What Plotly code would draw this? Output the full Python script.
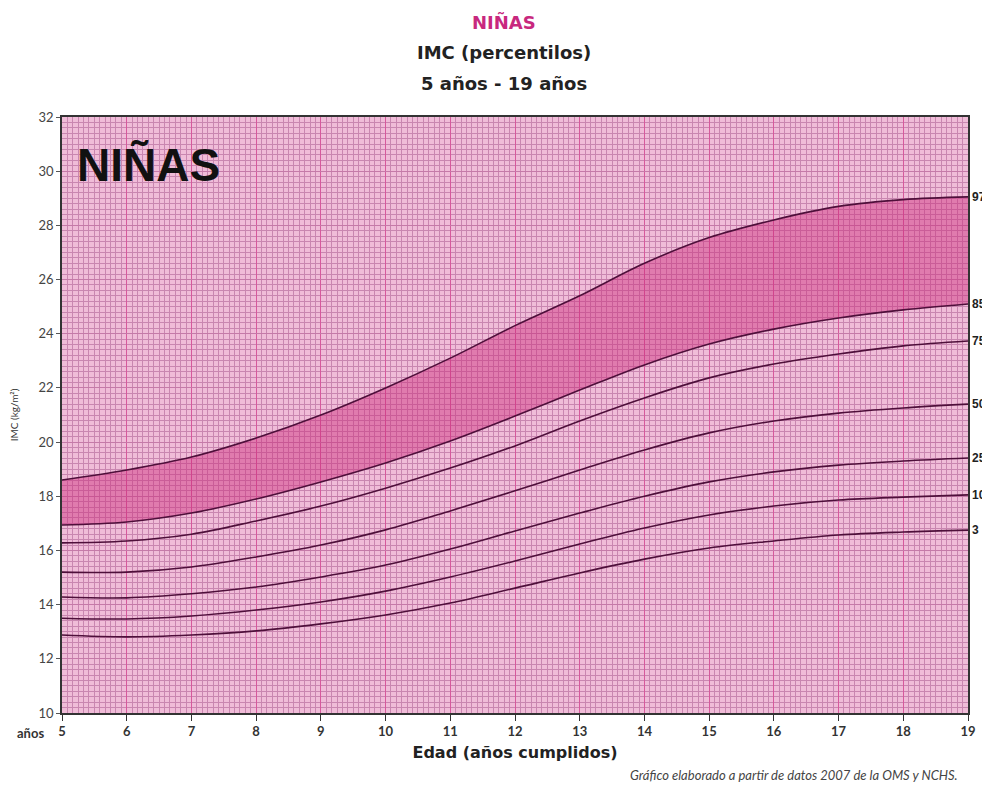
import plotly.graph_objects as go

ages = [5, 6, 7, 8, 9, 10, 11, 12, 13, 14, 15, 16, 17, 18, 19]
p97 = [18.6, 18.97, 19.45, 20.15, 21.0, 22.0, 23.1, 24.3, 25.4, 26.6, 27.55, 28.2, 28.7, 28.95, 29.05]
p85 = [16.94, 17.05, 17.38, 17.9, 18.53, 19.23, 20.04, 20.96, 21.92, 22.85, 23.62, 24.17, 24.58, 24.88, 25.1]
p75 = [16.28, 16.35, 16.6, 17.09, 17.64, 18.3, 19.04, 19.86, 20.78, 21.63, 22.37, 22.88, 23.25, 23.55, 23.73]
p50 = [15.2, 15.2, 15.39, 15.76, 16.2, 16.76, 17.46, 18.2, 18.97, 19.71, 20.34, 20.78, 21.07, 21.26, 21.4]
p25 = [14.28, 14.25, 14.4, 14.65, 15.02, 15.46, 16.05, 16.72, 17.38, 18.0, 18.53, 18.9, 19.15, 19.3, 19.41]
p10 = [13.5, 13.47, 13.58, 13.8, 14.1, 14.5, 15.02, 15.61, 16.24, 16.83, 17.31, 17.64, 17.86, 17.97, 18.05]
p3 = [12.88, 12.81, 12.88, 13.03, 13.29, 13.62, 14.06, 14.61, 15.17, 15.68, 16.09, 16.35, 16.57, 16.68, 16.75]

series = [("97", p97), ("85", p85), ("75", p75), ("50", p50), ("25", p25), ("10", p10), ("3", p3)]
x_ticks = list(range(5, 20))
y_ticks = list(range(10, 33, 2))

LINE = "#4e0f3a"
TITLE_FONT = "DejaVu Sans"
fig = go.Figure()

# shaded band between 85 and 97
fig.add_trace(go.Scatter(x=ages, y=p85, mode="lines", line=dict(color=LINE, width=1.6, shape="spline"),
                         hoverinfo="skip", showlegend=False))
fig.add_trace(go.Scatter(x=ages, y=p97, mode="lines", line=dict(color=LINE, width=1.6, shape="spline"),
                         fill="tonexty", fillcolor="rgba(205,45,125,0.45)", hoverinfo="skip", showlegend=False))
for name, vals in series[2:]:
    fig.add_trace(go.Scatter(x=ages, y=vals, mode="lines", line=dict(color=LINE, width=1.6, shape="spline"),
                             name=name, showlegend=False))

for name, vals in series:
    fig.add_annotation(x=19, y=vals[-1], xref="x", yref="y", text="<b>" + name + "</b>", showarrow=False,
                       xanchor="left", xshift=2, font=dict(family="Liberation Sans", size=12, color="#222"))

fig.update_xaxes(range=[5, 19], tickvals=x_ticks, ticktext=["<b>%d</b>" % v for v in x_ticks],
                 showgrid=True, gridcolor="#d65a9c", gridwidth=1.3,
                 minor=dict(dtick=1/12, tick0=5, showgrid=True, gridcolor="#c986b0", gridwidth=1),
                 showline=True, linecolor="#333", linewidth=1.5, mirror=True,
                 ticks="outside", ticklen=6, tickcolor="#333",
                 tickfont=dict(family="Lato", size=13, color="#333"),
                 title=dict(text="<b>Edad (años cumplidos)</b>", font=dict(family=TITLE_FONT, size=16, color="#222"), standoff=8),
                 automargin=False, zeroline=False)
fig.update_yaxes(range=[10, 32], tickvals=y_ticks, showgrid=True, gridcolor="#c57aa8", gridwidth=1,
                 minor=dict(dtick=0.2, tick0=10, showgrid=True, gridcolor="#c986b0", gridwidth=1),
                 showline=True, linecolor="#333", linewidth=1.5, mirror=True,
                 ticks="outside", ticklen=4, tickcolor="#555",
                 tickfont=dict(family="Lato", size=13, color="#444"),
                 title=dict(text="IMC (kg/m²)", font=dict(family="Lato", size=10, color="#333"), standoff=20),
                 automargin=False, zeroline=False)

# titles
fig.add_annotation(xref="paper", yref="paper", x=0.488, y=1.159, yanchor="middle", text="<b>NIÑAS</b>", showarrow=False,
                   font=dict(family=TITLE_FONT, size=18, color="#c8287e"))
fig.add_annotation(xref="paper", yref="paper", x=0.488, y=1.109, yanchor="middle", text="<b>IMC (percentilos)</b>", showarrow=False,
                   font=dict(family=TITLE_FONT, size=18, color="#222"))
fig.add_annotation(xref="paper", yref="paper", x=0.488, y=1.057, yanchor="middle", text="<b>5 años - 19 años</b>", showarrow=False,
                   font=dict(family=TITLE_FONT, size=18, color="#222"))
fig.add_annotation(xref="paper", yref="paper", x=0.014, y=0.919, yanchor="middle", text="<b>NIÑAS</b>", showarrow=False,
                   xanchor="left", font=dict(family="Liberation Sans", size=46, color="#111"))
fig.add_annotation(xref="paper", yref="paper", x=-0.018, y=-0.034, yanchor="middle", text="<b>años</b>", showarrow=False,
                   xanchor="right", font=dict(family="Lato", size=13, color="#333"))
fig.add_annotation(xref="paper", yref="paper", x=0.991, y=-0.104, yanchor="middle",
                   text="<i>Gráfico elaborado a partir de datos 2007 de la OMS y NCHS.</i>",
                   showarrow=False, xanchor="right", font=dict(family="Lato", size=13, color="#444"))
fig.add_shape(type="line", xref="paper", yref="paper", x0=-0.048, x1=0.021, y0=1.189, y1=1.189,
              line=dict(color="#8a1a7a", width=3))

fig.update_layout(width=982, height=777, margin=dict(l=54, r=22, t=109, b=72),
                  plot_bgcolor="#f0bcd8", paper_bgcolor="white")
fig.write_html("out.html")
